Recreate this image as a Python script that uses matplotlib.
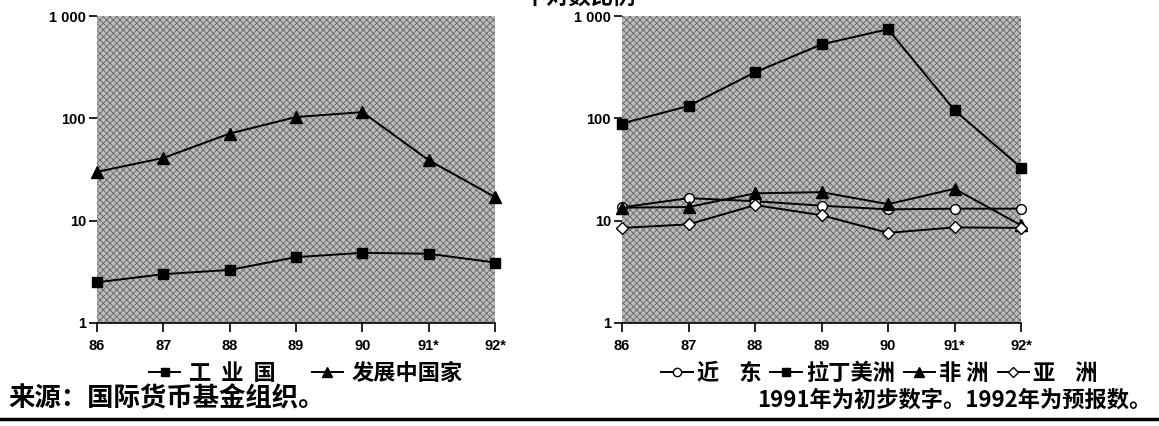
import numpy as np
import matplotlib.pyplot as plt
from matplotlib.lines import Line2D
from matplotlib.patches import Rectangle

plt.rcParams['font.family'] = ['Noto Sans CJK SC', 'DejaVu Sans']
plt.rcParams['hatch.linewidth'] = 0.6

# Data (log scale)
years = [86, 87, 88, 89, 90, 91, 92]
year_labels = ["86", "87", "88", "89", "90", "91*", "92*"]

industrial = [2.5, 3.0, 3.3, 4.4, 4.85, 4.75, 3.9]
developing = [30, 41, 71, 103, 115, 39, 17]

near_east = [13.5, 16.6, 15.5, 14.0, 12.9, 13.1, 13.1]
latin_america = [89, 132, 282, 528, 743, 120, 33]
africa = [13.4, 13.6, 18.5, 19.0, 14.5, 20.5, 9.0]
asia = [8.5, 9.2, 14.2, 11.3, 7.6, 8.6, 8.5]

ytick_vals = [1, 10, 100, 1000]
ytick_labels = ["1", "10", "100", "1 000"]

fig = plt.figure(figsize=(11.59, 4.26), dpi=100)
ax1 = fig.add_axes([0.0837, 0.2418, 0.3434, 0.7206])
ax2 = fig.add_axes([0.5367, 0.2418, 0.3443, 0.7206])


def style_axis(ax):
    ax.set_yscale('log')
    ax.set_xlim(86, 92)
    ax.set_ylim(1, 1000)
    ax.set_facecolor('white')
    # halftone-like grey shading
    shade = Rectangle((0, 0), 1, 1, transform=ax.transAxes, facecolor='#bcbcbc',
                      edgecolor='#666666', hatch='xxxxx', linewidth=0, zorder=0)
    ax.add_patch(shade)
    for s in ['top', 'right', 'left']:
        ax.spines[s].set_visible(False)
    ax.spines['bottom'].set_linewidth(1.2)
    ax.set_xticks(years)
    ax.set_xticklabels(year_labels, fontsize=10.5, fontweight='bold', family='Liberation Sans')
    ax.set_yticks(ytick_vals)
    ax.set_yticklabels(ytick_labels, fontsize=10.5, fontweight='bold', family='Liberation Sans')
    ax.yaxis.set_minor_locator(plt.NullLocator())
    ax.tick_params(axis='x', length=6.5, width=1.2, pad=5)
    ax.tick_params(axis='y', length=6, width=1.2, pad=2)


style_axis(ax1)
style_axis(ax2)

kw = dict(color='black', linewidth=1.4, clip_on=False, zorder=3)
ax1.plot(years, industrial, marker='s', markersize=7, **kw)
ax1.plot(years, developing, marker='^', markersize=8, **kw)

ax2.plot(years, near_east, marker='o', markersize=7, markerfacecolor='white', **kw)
ax2.plot(years, latin_america, marker='s', markersize=7, **kw)
ax2.plot(years, africa, marker='^', markersize=8, **kw)
ax2.plot(years, asia, marker='D', markersize=6.5, markerfacecolor='white', **kw)

# legends
def handle(m, fc='black', ms=6):
    return Line2D([], [], color='black', linewidth=1.4, marker=m, markersize=ms,
                  markerfacecolor=fc)

leg_font = dict(size=16, weight='bold')
fig.legend([handle('s'), handle('^', ms=7)], ["工  业  国", "发展中国家"],
           loc='center', bbox_to_anchor=(0.264, 0.124), ncol=2, frameon=False,
           prop=leg_font, handlelength=1.4, handletextpad=0.4, columnspacing=1.6,
           borderpad=0, borderaxespad=0)
fig.legend([handle('o', 'white'), handle('s'), handle('^', ms=7), handle('D', 'white', 5.5)],
           ["近    东", "拉丁美洲", "非 洲", "亚    洲"],
           loc='center', bbox_to_anchor=(0.759, 0.124), ncol=4, frameon=False,
           prop=leg_font, handlelength=1.4, handletextpad=0.2, columnspacing=0.4,
           borderpad=0, borderaxespad=0)

# title (cut off at top) and notes
fig.text(0.5, 1.007, "半对数比例", ha='center', va='center', fontsize=16, fontweight='bold')
fig.text(0.007, 0.063, "来源：国际货币基金组织。", ha='left', va='center',
         fontsize=19, fontweight='bold')
fig.text(0.993, 0.06, "1991年为初步数字。1992年为预报数。", ha='right', va='center',
         fontsize=16, fontweight='bold')
fig.add_artist(Line2D([0, 1], [0.0164, 0.0164], transform=fig.transFigure,
                      color='black', linewidth=2.5))

fig.savefig("out.png", dpi=100)
